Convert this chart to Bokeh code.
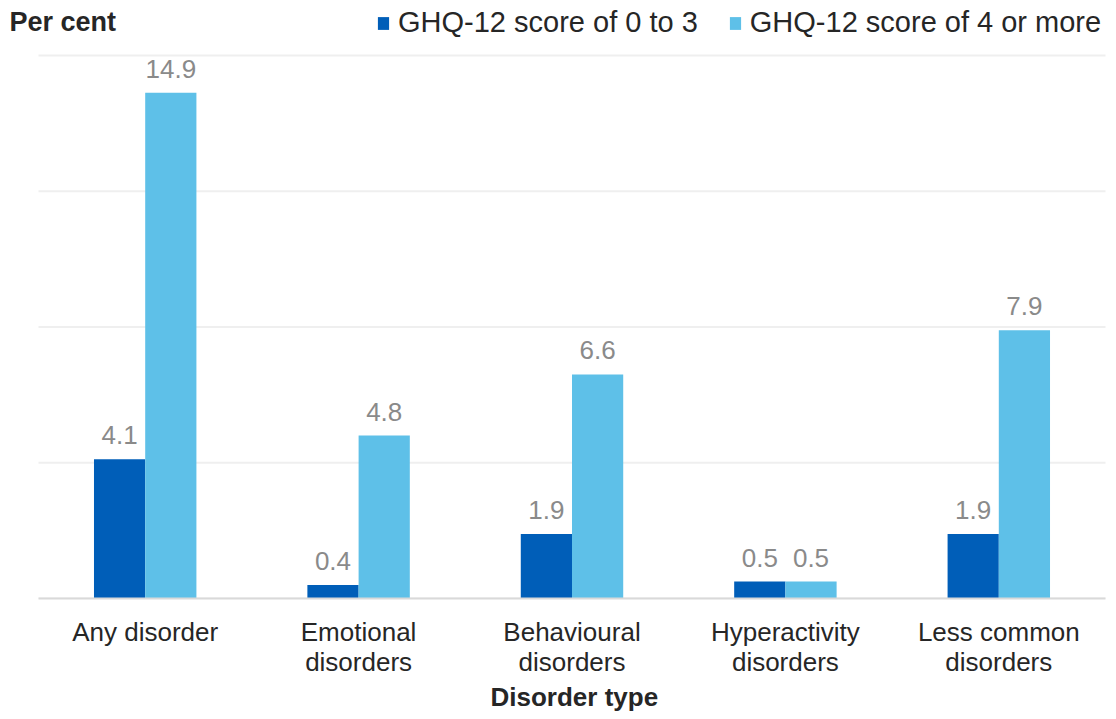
from bokeh.plotting import figure
from bokeh.models import (ColumnDataSource, Legend, LegendItem, LabelSet, Label,
                          Range1d, FixedTicker, Title)
from bokeh.core.properties import value
from bokeh.embed import file_html
from bokeh.resources import INLINE

categories = ["Any disorder", "Emotional\ndisorders", "Behavioural\ndisorders",
              "Hyperactivity\ndisorders", "Less common\ndisorders"]
score_0_to_3 = [4.1, 0.4, 1.9, 0.5, 1.9]
score_4_plus = [14.9, 4.8, 6.6, 0.5, 7.9]
series_names = ["GHQ-12 score of 0 to 3", "GHQ-12 score of 4 or more"]
y_ticks = [0, 4, 8, 12, 16]

FONT = "Liberation Sans"
DARK = "#005EB8"
LIGHT = "#5EC0E8"
BAR_W = 0.24

n = len(categories)
idx = list(range(n))
src = ColumnDataSource(dict(
    x_low=[i - BAR_W / 2 for i in idx],
    x_high=[i + BAR_W / 2 for i in idx],
    low=score_0_to_3,
    high=score_4_plus,
    low_txt=[f"{v:.1f}" for v in score_0_to_3],
    high_txt=[f"{v:.1f}" for v in score_4_plus],
))

# frame covers the whole canvas above the axis; px per category = 1067/5
W, H, BOTTOM = 1108, 711, 112
px_cat = 1067 / n
frame_h = H - BOTTOM
px_unit = 544 / y_ticks[-1]
x_range = Range1d(-0.5 - 38 / px_cat, n - 0.5 + 3 / px_cat)
y_range = Range1d(0, frame_h / px_unit)

p = figure(width=W, height=H, x_range=x_range, y_range=y_range,
           output_backend="svg", toolbar_location=None,
           min_border_left=0, min_border_right=0, min_border_top=0,
           min_border_bottom=BOTTOM)
p.outline_line_color = None
p.background_fill_color = "white"
p.border_fill_color = "white"
p.xgrid.visible = False
p.ygrid.visible = False
p.yaxis.visible = False

# horizontal gridlines spanning the category area
p.segment(x0=[-0.5] * len(y_ticks), x1=[n - 0.5] * len(y_ticks), y0=y_ticks, y1=y_ticks,
          line_color="#EFEFEF", line_width=2)

r1 = p.vbar(x="x_low", top="low", width=BAR_W, source=src, fill_color=DARK, line_color=None)
r2 = p.vbar(x="x_high", top="high", width=BAR_W, source=src, fill_color=LIGHT, line_color=None)

for xcol, col in (("x_low", "low"), ("x_high", "high")):
    p.add_layout(LabelSet(x=xcol, y=col, text=col + "_txt", source=src,
                          text_align="center", text_baseline="alphabetic", y_offset=15,
                          text_font=value(FONT), text_font_size=value("26px"),
                          text_color="#8A8A8A"))

xa = p.xaxis[0]
xa.ticker = FixedTicker(ticks=idx)
xa.major_label_overrides = {i: c for i, c in zip(idx, categories)}
xa.bounds = (-0.5, n - 0.5)
xa.axis_line_color = "#D9D9D9"
xa.axis_line_width = 2
xa.major_tick_line_color = None
xa.minor_tick_line_color = None
xa.major_label_text_font = FONT
xa.major_label_text_font_size = "26px"
xa.major_label_text_color = "#262626"
if "major_label_text_line_height" in xa.properties():
    xa.major_label_text_line_height = 1.0
xa.major_label_standoff = 12

p.add_layout(Title(text="Disorder type", align="left", offset=490, standoff=0,
                   text_font=FONT, text_font_size="26px", text_font_style="bold",
                   text_color="#262626"), "below")

p.add_layout(Label(x=9, y=frame_h - 22, x_units="screen", y_units="screen", text="Per cent",
                   text_font=FONT, text_font_size="27px", text_font_style="bold",
                   text_color="#262626", text_baseline="middle"))

legend = Legend(items=[LegendItem(label=series_names[0], renderers=[r1]),
                       LegendItem(label=series_names[1], renderers=[r2])],
                orientation="horizontal", location=(376, frame_h - 22 - 18),
                label_text_font=FONT, label_text_font_size="29px",
                label_text_color="#262626", glyph_width=14, glyph_height=16,
                label_standoff=8, spacing=30, padding=0, margin=0,
                background_fill_alpha=0, border_line_color=None)
p.add_layout(legend, "center")

open("out.html", "w").write(file_html(p, INLINE))
